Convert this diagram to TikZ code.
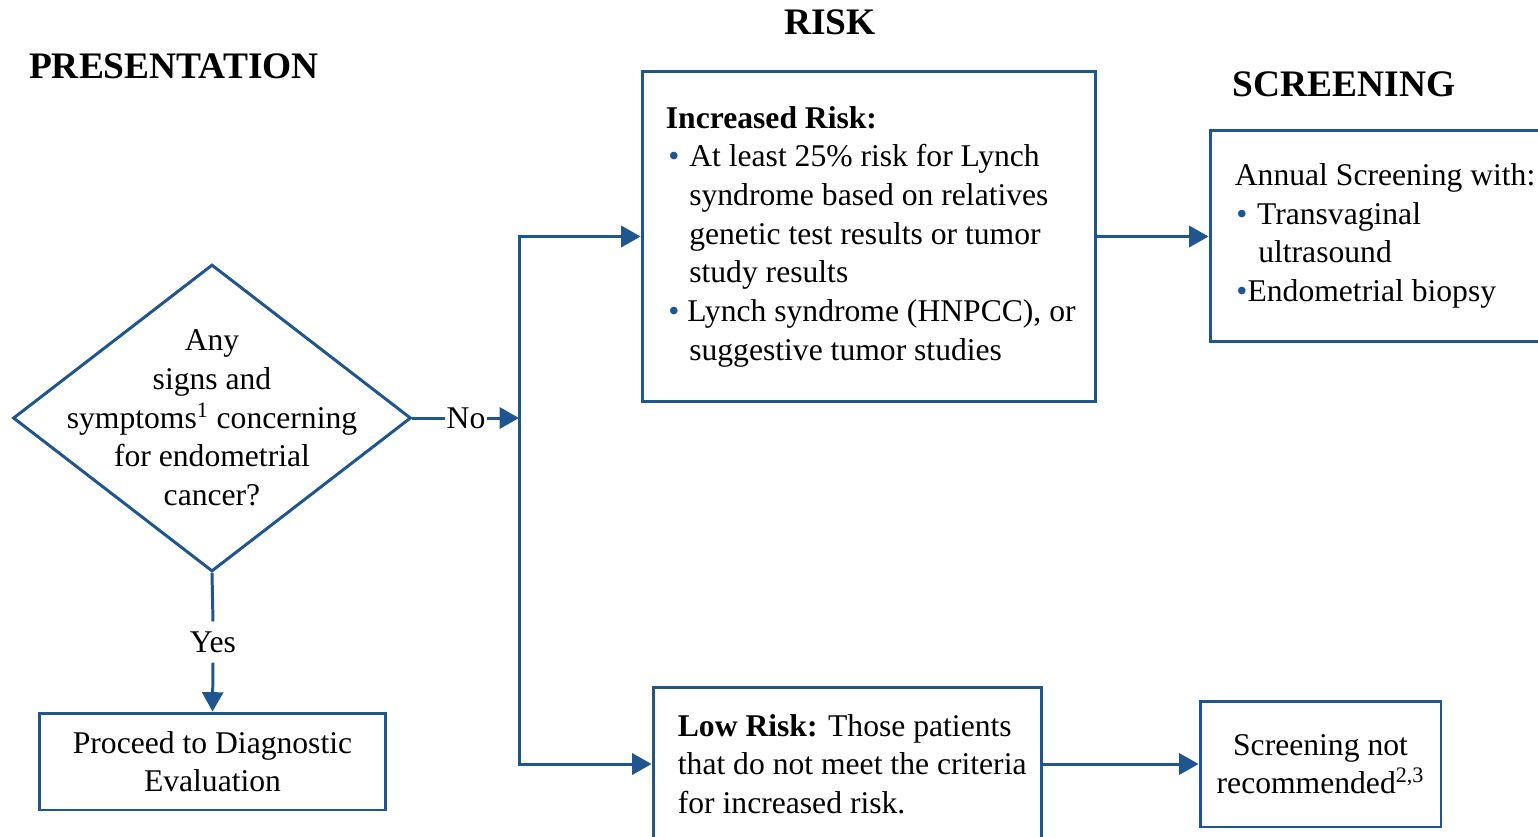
\documentclass[tikz,border=0pt]{standalone}
\usepackage{fontspec}
\setmainfont{Liberation Serif}
\usetikzlibrary{shapes.geometric, arrows.meta, positioning}

\definecolor{flowblue}{RGB}{31,86,144}

\newcommand{\bdot}{\textcolor{flowblue}{\textbullet}}
\newcommand{\bitem}{\makebox[0.74em][l]{\hspace{0.08em}\bdot}}
\newcommand{\bskip}{\makebox[0.74em]{}}

\begin{document}
\begin{tikzpicture}[x=0.02cm, y=-0.02cm, >={Triangle[length=11pt, width=12pt]}]
% --- Global Styles ---
\tikzstyle{flow} = [draw=flowblue, line width=1.7pt]
\tikzstyle{box} = [flow, rectangle, inner sep=0pt]
\tikzstyle{decision} = [flow, diamond, inner sep=0pt, minimum width=7.96cm, minimum height=6.14cm]
\tikzstyle{body} = [font=\fontsize{18}{22}\selectfont, inner sep=0pt]
\tikzstyle{title} = [font=\fontsize{21.3}{25}\selectfont\bfseries]
\tikzstyle{arrow} = [->, flow]

% --- Page frame (pixel units) ---
\useasboundingbox (0,0) rectangle (1538,836);
\clip (0,0) rectangle (1538,836);

% ==========================================
% Column titles
% ==========================================
\node[title] (tpres) at (174,66) {PRESENTATION};
\node[title] (trisk) at (830,22) {RISK};
\node[title] (tscr) at (1344,84) {SCREENING};

% ==========================================
% PRESENTATION: question and yes branch
% ==========================================
\node[decision] (ask) at (212,418) {};
\node[body, align=center] (asktext) at (ask.center)
  {Any\\signs and\\symptoms\textsuperscript{1} concerning\\for endometrial\\cancer?};

\node[body, inner sep=5.5pt] (yes) at (213,642) {Yes};
\node[box, body, align=center, minimum width=6.94cm, minimum height=1.94cm]
  (proc) at (212.5,761.5) {Proceed to Diagnostic\\Evaluation};

\draw[flow] (ask.south) -- (yes.north);
\draw[arrow] (yes.south) -- (proc.north);

% ==========================================
% RISK: no branch splits in two
% ==========================================
\node[body, inner sep=1pt] (no) at (466,418) {No};
\coordinate (trunk) at (519,418);

\draw[flow] (ask.east) -- (no.west);
\draw[arrow] (no.east) -- (trunk);

% Increased risk
\node[box, minimum width=9.08cm, minimum height=6.62cm] (incr) at (869,236.5) {};
\node[body, align=left, anchor=west] (incrtext) at ([xshift=0.5cm]incr.west)
  {\textbf{Increased Risk:}\\
   \bitem At least 25\% risk for Lynch\\
   \bskip syndrome based on relatives\\
   \bskip genetic test results or tumor\\
   \bskip study results\\
   \makebox[0.68em][l]{\hspace{0.08em}\bdot}Lynch syndrome (HNPCC), or\\
   \bskip suggestive tumor studies};

% Low risk
\node[box, minimum width=7.78cm, minimum height=3.08cm] (low) at (847.5,764) {};
\node[body, align=left, anchor=west] (lowtext) at ([xshift=0.52cm]low.west)
  {\textbf{Low Risk:} Those patients\\
   that do not meet the criteria\\
   for increased risk.};

\draw[arrow] (trunk) |- (incr.west);
\draw[arrow] (trunk) |- (low.west);

% ==========================================
% SCREENING
% ==========================================
\node[box, minimum width=7.8cm, minimum height=4.24cm] (scr) at (1405,236) {};
\node[body, align=left, anchor=west] (scrtext) at ([xshift=0.52cm]scr.west)
  {Annual Screening with:\\
   \makebox[0.7em][l]{\hspace{0.05em}\bdot}Transvaginal\\
   \makebox[0.74em]{}ultrasound\\
   \makebox[0.4em][l]{\hspace{0.05em}\bdot}Endometrial biopsy};

\node[box, body, align=center, minimum width=4.82cm, minimum height=2.52cm]
  (notrec) at (1320.5,764) {Screening not\\recommended\textsuperscript{2,3}};

\draw[arrow] (incr.east) -- (incr.east -| scr.west);
\draw[arrow] (low.east) -- (notrec.west);

\end{tikzpicture}
\end{document}
